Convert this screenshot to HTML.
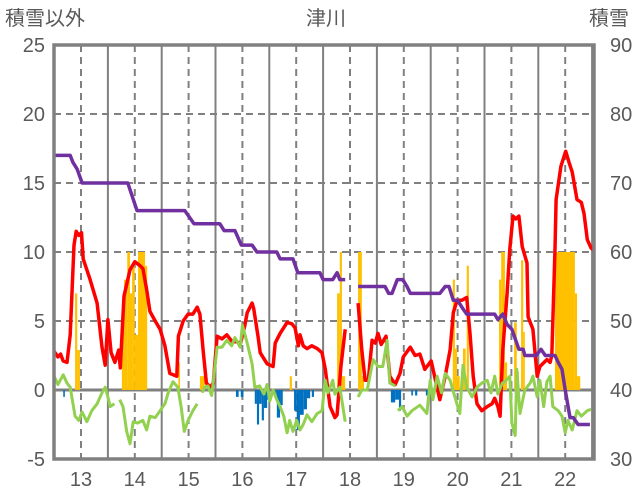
<!DOCTYPE html>
<html><head><meta charset="utf-8">
<style>
html,body{margin:0;padding:0;background:#fff;}
svg{display:block;font-family:"Liberation Sans","Noto Sans CJK JP",sans-serif;}
</style></head>
<body>
<svg id="chart" width="636" height="501" viewBox="0 0 636 501" xmlns="http://www.w3.org/2000/svg">
<text x="5" y="25" font-size="20" fill="#595959">積雪以外</text>
<text x="326" y="25" font-size="20" fill="#595959" text-anchor="middle">津川</text>
<text x="589" y="25" font-size="20" fill="#595959">積雪</text>
<g id="grid"></g>
<g id="bars"></g>
<g id="lines"></g>
<g id="axes"></g>
</svg>
<script>
const redT=[12.50,12.57,12.62,12.67,12.74,12.80,12.87,12.91,12.96,13.01,13.04,13.17,13.30,13.39,13.45,13.50,13.56,13.63,13.70,13.73,13.80,13.91,14.00,14.10,14.15,14.22,14.28,14.38,14.47,14.56,14.65,14.78,14.81,14.90,14.99,15.08,15.16,15.21,15.27,15.33,15.40,15.46,15.53,15.62,15.71,15.81,15.90,15.96,16.04,16.09,16.18,16.21,16.29,16.33,16.46,16.57,16.61,16.70,16.83,16.92,16.98,17.04,17.07,17.13,17.20,17.29,17.39,17.48,17.54,17.63,17.72,17.76,17.83,17.91,18.0,18.15,18.22,18.28,18.34,18.41,18.47,18.52,18.58,18.67,18.74,18.84,18.93,18.99,19.12,19.21,19.30,19.39,19.51,19.60,19.67,19.77,19.86,19.92,19.99,20.08,20.17,20.23,20.29,20.36,20.45,20.55,20.64,20.69,20.75,20.79,20.84,20.92,20.97,21.03,21.08,21.14,21.20,21.29,21.31,21.40,21.48,21.53,21.66,21.72,21.75,21.81,21.83,21.92,22.01,22.07,22.13,22.22,22.30,22.35,22.41,22.48,22.54];
const redV=[2.8,2.4,2.6,2.1,2.0,4.0,10.5,11.5,11.2,11.4,9.5,8.0,6.3,3.1,1.8,5.1,2.7,2.0,2.9,1.6,6.8,8.7,9.3,9.0,8.8,7.3,5.7,5.0,4.4,3.2,1.2,1.0,3.9,5.0,5.5,5.5,6.0,5.5,2.9,0.5,0.2,0.5,3.9,3.7,4.0,3.5,3.5,3.3,4.6,5.6,6.3,5.9,3.9,2.7,1.9,1.7,3.4,4.1,4.9,4.8,4.5,3.2,4.0,3.2,3.0,3.2,3.0,2.7,1.5,-1.2,-2.0,-1.8,1.7,4.4,null,6.3,2.9,0.7,0.7,3.6,3.4,4.1,3.3,3.9,1.0,0.4,1.2,2.4,3.1,2.5,2.6,1.5,2.1,0.5,-0.7,1.0,2.9,5.6,6.5,6.5,6.7,4.1,1.0,-1.0,-1.5,-1.2,-1.0,-0.6,-1.2,-1.9,2.9,7.0,10.2,12.6,12.4,12.6,10.4,9.2,5.3,4.4,1.0,1.7,2.2,2.0,2.5,10.2,13.8,16.2,17.3,16.5,15.8,13.8,13.6,12.8,10.9,10.3,10.1];
const snowT=[12.50,12.80,12.85,12.93,13.02,13.87,14.04,14.93,15.10,15.58,15.66,15.86,15.98,16.18,16.27,16.64,16.70,16.94,17.03,17.44,17.50,17.68,17.76,17.81,17.91,18.0,18.15,18.65,18.72,18.78,18.88,18.98,19.06,19.12,19.67,19.77,19.84,19.92,20.00,20.08,20.17,20.69,20.75,20.84,20.92,21.01,21.14,21.22,21.25,21.46,21.55,21.63,21.81,21.87,21.94,22.00,22.09,22.15,22.24,22.46];
const snowV=[74,74,73,72,70,70,66,66,64.1,64.1,63.1,63.1,61,61,60,60,59,59,57,57,56,56,57,56,56,null,55,55,54,54,56,56,55,54,54,55,55,53,53,52,51,51,50.2,51,49.5,48.8,45.9,45.9,45,45,45.9,45,45,44,43,40,36,36,35,35];
const greenT=[12.50,12.57,12.67,12.74,12.80,12.89,12.96,13.02,13.11,13.20,13.30,13.39,13.45,13.50,13.54,13.62,13.67,13.72,13.78,13.85,13.91,13.97,14.05,14.15,14.22,14.28,14.38,14.47,14.56,14.62,14.71,14.80,14.86,14.92,14.99,15.08,15.16,15.2,15.25,15.30,15.36,15.43,15.53,15.62,15.71,15.80,15.86,15.96,16.00,16.09,16.18,16.23,16.32,16.40,16.46,16.51,16.57,16.64,16.70,16.77,16.83,16.88,16.94,17.01,17.07,17.13,17.20,17.29,17.39,17.48,17.54,17.59,17.68,17.72,17.81,17.91,18.0,18.15,18.22,18.32,18.43,18.52,18.61,18.69,18.74,18.84,18.86,18.89,18.97,19.06,19.15,19.30,19.43,19.49,19.54,19.62,19.70,19.77,19.86,19.95,20.04,20.10,20.17,20.27,20.36,20.45,20.55,20.62,20.69,20.75,20.83,20.88,20.97,21.01,21.07,21.10,21.16,21.25,21.35,21.40,21.48,21.53,21.60,21.66,21.72,21.77,21.87,21.94,22.00,22.05,22.13,22.22,22.30,22.41,22.48];
const greenV=[1.0,0.4,1.1,0.5,0.2,-1.9,-2.2,-1.6,-2.3,-1.5,-1.0,-0.2,0.2,-0.5,-1.2,-1.0,null,-0.7,-1.2,-3.0,-3.9,-2.3,-2.4,-2.2,-2.9,-1.9,-2.0,-1.5,-1.0,-0.2,0.6,0.2,-1.2,-3.0,-2.2,-1.5,-1.0,null,-0.2,0.2,0.3,-0.4,3.1,3.1,3.6,3.2,3.8,3.1,4.7,3.4,1.9,0.2,0.3,-0.3,0.4,-0.8,0.0,-0.7,-1.2,-1.9,-3.1,-2.2,-3.0,-2.2,-2.9,-2.5,-1.8,-2.3,-1.7,-1.5,0.7,-0.2,0.7,-0.3,0.2,-2.3,null,-0.5,0.0,0.0,2.2,1.7,1.7,3.6,0.5,0.3,null,-1.5,-1.2,-1.9,-1.5,-1.1,-1.7,0.7,-0.7,1.0,-0.2,1.2,0.7,-0.5,-1.7,1.8,0.2,-0.5,0.2,0.5,0.7,-0.2,1.0,-0.3,0.5,0.6,1.0,-2.4,-3.3,1.5,-1.7,0.0,0.5,1.0,-0.5,0.7,-1.2,0.6,1.0,-1.2,-1.5,-1.9,-3.1,-2.2,-2.9,-1.5,-1.9,-1.5,-1.4];
const precipStart=[12.89,12.93,13.76,13.80,13.86,13.91,13.95,14.00,14.06,14.19,14.81,15.21,16.88,17.76,17.81,17.85,18.15,18.22,19.91,19.95,19.99,20.10,20.17,20.77,20.81,20.88,21.05,21.10,21.18,21.22,21.81,22.18,22.22];
const precipEnd=[12.93,12.98,13.80,13.86,13.91,13.95,14.00,14.06,14.19,14.23,14.84,15.30,16.92,17.81,17.85,17.91,18.22,18.26,19.95,19.99,20.04,20.15,20.21,20.81,20.88,20.92,21.10,21.14,21.22,21.25,22.18,22.22,22.28];
const precipVal=[7,2.9,5,8,10,7,9,4,10,9,2,1,1,7,10,1,10,1,8,3,1,3,9,8,10,2,4.9,1.3,9.4,4.2,10,7,1];
const negStart=[12.67,15.88,15.97,16.23,16.27,16.31,16.36,16.40,16.46,16.61,16.64,16.70,16.96,17.01,17.07,17.14,17.20,17.29,18.76,18.84,18.91,19.14,19.21,19.41];
const negEnd=[12.70,15.93,16.02,16.27,16.31,16.36,16.40,16.46,16.49,16.64,16.70,16.75,17.01,17.07,17.14,17.20,17.26,17.33,18.84,18.91,18.95,19.17,19.25,19.47];
const negVal=[-0.5,-0.5,-0.5,-1.0,-2.5,-1.0,-2.2,-1.3,-0.7,-0.6,-2.0,-1.1,-1.5,-2.9,-1.8,-1.4,-0.6,-0.5,-0.9,-0.7,-1.5,-0.4,-0.4,-0.4];
const leftTicks=[25,20,15,10,5,0,-5];
const rightTicks=[90,80,70,60,50,40,30];
const dayTicks=[13,14,15,16,17,18,19,20,21,22];

const L=54,R=594,T=45,B=459;
const x=d=>81+(d-13)*53.8;
const y=v=>390-v*13.8;
const y2=w=>y((w-40)/2);
const NS="http://www.w3.org/2000/svg";
function mk(parent,tag,attrs){const e=document.createElementNS(NS,tag);for(const k in attrs)e.setAttribute(k,attrs[k]);parent.appendChild(e);return e;}
const grid=document.getElementById('grid'),bars=document.getElementById('bars'),lines=document.getElementById('lines'),axes=document.getElementById('axes');
leftTicks.forEach(v=>{if(v===25||v===-5)return;const l=mk(grid,'line',{x1:L,x2:R,y1:y(v),y2:y(v),stroke:'#808080','stroke-width':v===0?3:2,'stroke-dasharray':v===0?'none':'7 5'});

});
dayTicks.forEach(d=>{const l=mk(grid,'line',{x1:x(d),x2:x(d),y1:T,y2:B,stroke:'#808080','stroke-width':2,'stroke-dasharray':'7 5'});


const s=mk(grid,'line',{x1:x(d+0.5),x2:x(d+0.5),y1:T,y2:B,stroke:'#808080','stroke-width':2});

});
precipVal.forEach((v,i)=>{const r=mk(bars,'rect',{x:x(precipStart[i]),y:y(v),width:x(precipEnd[i])-x(precipStart[i]),height:y(0)-y(v),fill:'#ffc000'});

});
negVal.forEach((v,i)=>{const r=mk(bars,'rect',{x:x(negStart[i]),y:y(0),width:x(negEnd[i])-x(negStart[i]),height:y(v)-y(0),fill:'#0070c0'});

});
function path(ts,vs,fy){let d='',pen=false;ts.forEach((t,i)=>{const v=vs[i];if(v===null){pen=false;return;}d+=(pen?'L':'M')+x(t).toFixed(1)+' '+fy(v).toFixed(1);pen=true;});return d;}
const pr=mk(lines,'path',{d:path(redT,redV,y),fill:'none',stroke:'#ff0000','stroke-width':3.5,'stroke-linejoin':'round'});


const pg=mk(lines,'path',{d:path(greenT,greenV,y),fill:'none',stroke:'#92d050','stroke-width':3,'stroke-linejoin':'round'});


const pp=mk(lines,'path',{d:path(snowT,snowV,y2),fill:'none',stroke:'#7030a0','stroke-width':3.5,'stroke-linejoin':'round'});


const fr=mk(axes,'rect',{x:L,y:T,width:R-L,height:B-T,fill:'none',stroke:'#808080','stroke-width':3.5});


leftTicks.forEach(v=>{const t=mk(axes,'text',{x:45,y:y(v)+7,'font-size':20,fill:'#595959','text-anchor':'end'});t.textContent=v;

});
rightTicks.forEach(w=>{const t=mk(axes,'text',{x:610,y:y2(w)+7,'font-size':20,fill:'#595959'});t.textContent=w;

});
dayTicks.forEach(d=>{const t=mk(axes,'text',{x:x(d),y:486,'font-size':20,fill:'#595959','text-anchor':'middle'});t.textContent=d;

});
</script>
</body></html>
